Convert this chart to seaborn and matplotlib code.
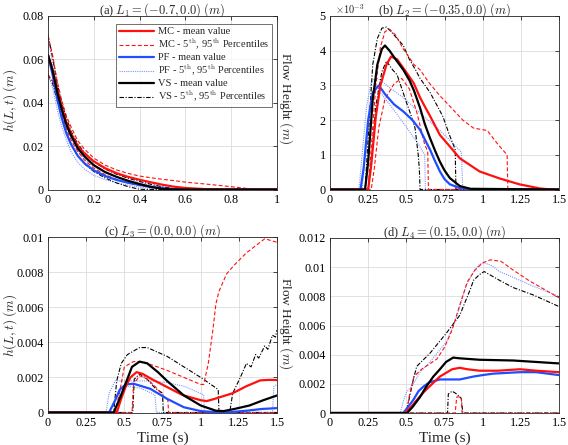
import numpy as np
import pandas as pd
import seaborn as sns
import matplotlib.pyplot as plt

# ---- panel (a): L1 = (-0.7, 0.0), common time grid
t_a = [0, 0.02, 0.04, 0.06, 0.08, 0.10, 0.13, 0.16, 0.20, 0.25, 0.30, 0.35, 0.40,
       0.45, 0.50, 0.55, 0.60, 0.70, 0.80, 0.90, 1.00]
a_mc_mean = [0.062, 0.055, 0.046, 0.038, 0.031, 0.026, 0.020, 0.0165, 0.013, 0.0098, 0.0075,
             0.0058, 0.0045, 0.0033, 0.0022, 0.0013, 0.0007, 0.0001, 0, 0, 0]
a_mc_p95 = [0.071, 0.062, 0.050, 0.041, 0.034, 0.029, 0.0225, 0.0185, 0.0145, 0.0112, 0.0090,
            0.0074, 0.0062, 0.0054, 0.0047, 0.0041, 0.0034, 0.0024, 0.0013, 0.0001, 0]
a_mc_p5 = [0.053, 0.050, 0.043, 0.035, 0.028, 0.023, 0.0175, 0.0135, 0.0098, 0.0068, 0.0046,
           0.0030, 0.0018, 0.0009, 0.0003, 0, 0, 0, 0, 0, 0]
a_pf_mean = [0.062, 0.053, 0.042, 0.033, 0.026, 0.021, 0.0155, 0.0120, 0.0088, 0.0062, 0.0044,
             0.0031, 0.0021, 0.0012, 0.0005, 0.0001, 0, 0, 0, 0, 0]
a_pf_p95 = [0.071, 0.058, 0.046, 0.036, 0.029, 0.024, 0.018, 0.014, 0.0105, 0.0078, 0.0058,
            0.0042, 0.0030, 0.0020, 0.0012, 0.0005, 0.0001, 0, 0, 0, 0]
a_pf_p5 = [0.053, 0.047, 0.037, 0.029, 0.023, 0.0175, 0.0125, 0.0093, 0.0066, 0.0045, 0.0031,
           0.0020, 0.0011, 0.0004, 0, 0, 0, 0, 0, 0, 0]
a_vs_mean = [0.062, 0.055, 0.045, 0.037, 0.030, 0.025, 0.019, 0.0152, 0.0112, 0.0080, 0.0058,
             0.0040, 0.0025, 0.0012, 0.0003, 0, 0, 0, 0, 0, 0]
a_vs_p95 = [0.071, 0.061, 0.049, 0.040, 0.033, 0.027, 0.021, 0.017, 0.0128, 0.0094, 0.0070,
            0.0052, 0.0037, 0.0024, 0.0012, 0.0004, 0, 0, 0, 0, 0]
a_vs_p5 = [0.053, 0.049, 0.041, 0.033, 0.026, 0.021, 0.0155, 0.0118, 0.0083, 0.0053, 0.0030,
           0.0013, 0.0001, 0, 0, 0, 0, 0, 0, 0, 0]

# ---- panel (b): L2 = (-0.35, 0.0), heights in 1e-3 m
b_mc_mean_t = [0, 0.25, 0.27, 0.30, 0.33, 0.37, 0.40, 0.44, 0.48, 0.52, 0.55, 0.59, 0.62, 0.655,
               0.72, 0.785, 0.85, 0.98, 1.11, 1.24, 1.375, 1.45, 1.5]
b_mc_mean_h = [0, 0, 0.7, 2.1, 3.0, 3.6, 3.83, 3.75, 3.5, 3.25, 3.05, 2.65, 2.4, 2.12,
               1.57, 1.24, 0.9, 0.52, 0.32, 0.15, 0.03, 0, 0]
b_mc_p95_t = [0, 0.25, 0.27, 0.30, 0.33, 0.36, 0.39, 0.43, 0.48, 0.52, 0.55, 0.59, 0.65, 0.72,
              0.785, 0.87, 0.94, 1.03, 1.10, 1.16, 1.165, 1.5]
b_mc_p95_h = [0, 0, 1.2, 3.0, 4.1, 4.55, 4.62, 4.45, 4.05, 3.8, 3.6, 3.45, 3.07, 2.7,
              2.4, 2.0, 1.77, 1.7, 1.3, 1.0, 0, 0]
b_mc_p5_t = [0, 0.27, 0.29, 0.32, 0.36, 0.42, 0.47, 0.52, 0.57, 0.62, 0.64, 0.645, 1.5]
b_mc_p5_h = [0, 0, 0.6, 1.8, 2.6, 3.05, 3.2, 2.9, 2.2, 1.3, 1.1, 0, 0]
b_pf_mean_t = [0, 0.20, 0.22, 0.25, 0.28, 0.32, 0.36, 0.42, 0.48, 0.54, 0.59, 0.62, 0.655, 0.69,
               0.72, 0.75, 0.785, 0.85, 0.95, 1.5]
b_pf_mean_h = [0, 0, 0.6, 2.0, 2.8, 3.0, 2.75, 2.45, 2.25, 2.0, 1.72, 1.45, 1.15, 0.8,
               0.52, 0.3, 0.15, 0.04, 0, 0]
b_pf_p95_t = [0, 0.19, 0.21, 0.24, 0.27, 0.30, 0.33, 0.40, 0.48, 0.59, 0.72, 0.80, 0.86, 0.87, 1.5]
b_pf_p95_h = [0, 0, 1.0, 2.4, 3.1, 3.22, 3.15, 2.9, 2.65, 2.2, 1.7, 1.35, 1.08, 0, 0]
b_pf_p5_t = [0, 0.21, 0.23, 0.26, 0.29, 0.32, 0.40, 0.50, 0.58, 0.62, 0.625, 1.5]
b_pf_p5_h = [0, 0, 1.0, 2.2, 2.8, 2.85, 2.4, 1.8, 1.3, 1.0, 0, 0]
b_vs_mean_t = [0, 0.23, 0.25, 0.28, 0.31, 0.34, 0.36, 0.39, 0.43, 0.48, 0.52, 0.55, 0.59, 0.62,
               0.655, 0.69, 0.72, 0.75, 0.785, 0.85, 0.92, 1.5]
b_vs_mean_h = [0, 0, 0.8, 2.6, 3.6, 4.05, 4.15, 4.0, 3.75, 3.45, 3.15, 2.85, 2.35, 1.9,
               1.48, 1.1, 0.8, 0.55, 0.33, 0.1, 0.02, 0]
b_vs_p95_t = [0, 0.23, 0.25, 0.28, 0.31, 0.34, 0.37, 0.40, 0.44, 0.48, 0.52, 0.56, 0.59, 0.655,
              0.74, 0.78, 0.82, 0.825, 1.5]
b_vs_p95_h = [0, 0, 1.5, 3.6, 4.35, 4.65, 4.68, 4.55, 4.35, 4.15, 3.75, 3.45, 3.2, 2.8,
              2.1, 1.6, 1.15, 0, 0]
b_vs_p5_t = [0, 0.25, 0.27, 0.30, 0.34, 0.37, 0.41, 0.44, 0.50, 0.53, 0.557, 0.578, 0.585, 0.59, 1.5]
b_vs_p5_h = [0, 0, 0.8, 2.4, 3.4, 3.7, 3.45, 3.3, 2.52, 2.15, 1.77, 1.0, 0.6, 0, 0]

# ---- panel (c): L3 = (0.0, 0.0)
c_mc_mean_t = [0, 0.45, 0.48, 0.51, 0.54, 0.58, 0.62, 0.68, 0.78, 0.88, 1.0, 1.04, 1.1, 1.21,
               1.3, 1.39, 1.45, 1.5]
c_mc_mean_h = [0, 0, 0.0008, 0.0015, 0.002, 0.0023, 0.0022, 0.0019, 0.00145, 0.001, 0.0007,
               0.00065, 0.0008, 0.0011, 0.0015, 0.00183, 0.00186, 0.00185]
c_mc_p95_t = [0, 0.44, 0.47, 0.50, 0.56, 0.62, 0.78, 0.89, 1.0, 1.02, 1.05, 1.08, 1.1, 1.12,
              1.17, 1.22, 1.3, 1.39, 1.42, 1.5]
c_mc_p95_h = [0, 0, 0.0012, 0.0026, 0.0029, 0.0029, 0.0024, 0.002, 0.0016, 0.0016, 0.0028,
              0.0047, 0.0062, 0.0069, 0.0079, 0.0084, 0.0091, 0.0097, 0.0099, 0.0097]
c_mc_p5_t = [0, 0.55, 0.56, 0.6, 0.65, 0.7, 0.75, 0.785, 0.79, 1.5]
c_mc_p5_h = [0, 0, 0.0016, 0.0021, 0.0019, 0.0015, 0.001, 0.0007, 0, 0]
c_pf_mean_t = [0, 0.40, 0.44, 0.47, 0.51, 0.56, 0.67, 0.78, 0.89, 1.0, 1.1, 1.2, 1.3, 1.4, 1.5]
c_pf_mean_h = [0, 0, 0.0007, 0.0013, 0.0016, 0.00164, 0.00135, 0.00078, 0.0003, 0.00008,
               0.00002, 0.00003, 0.0001, 0.0002, 0.00025]
c_pf_p95_t = [0, 0.38, 0.40, 0.44, 0.55, 0.67, 0.78, 0.89, 0.97, 1.02, 1.025, 1.47, 1.48, 1.5]
c_pf_p95_h = [0, 0, 0.0011, 0.0018, 0.0018, 0.0018, 0.0017, 0.0015, 0.0012, 0.001, 0, 0,
              0.0015, 0.0016]
c_pf_p5_t = [0, 0.46, 0.47, 0.5, 0.6, 0.68, 0.70, 0.71, 1.5]
c_pf_p5_h = [0, 0, 0.0013, 0.0015, 0.0014, 0.0011, 0.001, 0, 0]
c_vs_mean_t = [0, 0.43, 0.47, 0.515, 0.55, 0.60, 0.65, 0.72, 0.78, 0.89, 1.0, 1.1, 1.15, 1.22,
               1.32, 1.41, 1.5]
c_vs_mean_h = [0, 0, 0.0008, 0.0018, 0.0026, 0.0029, 0.0028, 0.0023, 0.0018, 0.00097, 0.0004,
               0.0001, 0.00008, 0.0002, 0.0004, 0.0007, 0.00097]
c_vs_p95_t = [0, 0.43, 0.45, 0.48, 0.52, 0.60, 0.65, 0.78, 1.0, 1.10, 1.115, 1.12, 1.19, 1.21,
              1.26, 1.30, 1.33, 1.36, 1.38, 1.42, 1.44, 1.47, 1.49, 1.5]
c_vs_p95_h = [0, 0, 0.0018, 0.0028, 0.0033, 0.0037, 0.0037, 0.0032, 0.002, 0.0014, 0.0013, 0,
              0, 0.0011, 0.002, 0.0028, 0.0026, 0.0033, 0.0031, 0.0038, 0.0036, 0.0044,
              0.0043, 0.0047]
c_vs_p5_t = [0, 0.555, 0.565, 0.6, 0.65, 0.7, 0.75, 0.755, 1.5]
c_vs_p5_h = [0, 0, 0.0019, 0.0022, 0.0019, 0.0014, 0.0011, 0, 0]

# ---- panel (d): L4 = (0.15, 0.0)
d_mc_mean_t = [0, 0.49, 0.53, 0.57, 0.611, 0.65, 0.72, 0.8, 0.85, 0.9, 0.98, 1.1, 1.245, 1.35, 1.5]
d_mc_mean_h = [0, 0, 0.0004, 0.0009, 0.0014, 0.0018, 0.0025, 0.003, 0.0031, 0.003, 0.0029,
               0.0029, 0.003, 0.0029, 0.0028]
d_mc_p95_t = [0, 0.50, 0.52, 0.55, 0.6, 0.7, 0.75, 0.8, 0.85, 0.9, 0.95, 1.0, 1.05, 1.12, 1.2,
              1.3, 1.4, 1.5]
d_mc_p95_h = [0, 0, 0.0012, 0.0025, 0.003, 0.0037, 0.0045, 0.0057, 0.0074, 0.009, 0.0098,
              0.0103, 0.0105, 0.0104, 0.0098, 0.0091, 0.0085, 0.0079]
d_mc_p5_t = [0, 0.82, 0.83, 0.86, 0.865, 1.5]
d_mc_p5_h = [0, 0, 0.0011, 0.0011, 0, 0]
d_pf_mean_t = [0, 0.48, 0.51, 0.546, 0.58, 0.611, 0.65, 0.72, 0.85, 0.94, 1.0, 1.07, 1.245, 1.35, 1.5]
d_pf_mean_h = [0, 0, 0.0004, 0.0009, 0.0015, 0.0018, 0.0021, 0.0023, 0.0023, 0.0025, 0.0026,
               0.0027, 0.0028, 0.0028, 0.0026]
d_pf_p95_t = [0, 0.46, 0.48, 0.50, 0.546, 0.59, 0.655, 0.764, 0.83, 0.89, 0.94, 0.98, 1.01,
              1.06, 1.11, 1.2, 1.33, 1.5]
d_pf_p95_h = [0, 0, 0.0008, 0.0014, 0.002, 0.0028, 0.0035, 0.0049, 0.0066, 0.0087, 0.0097,
              0.0102, 0.0103, 0.0101, 0.0097, 0.0093, 0.0087, 0.008]
d_pf_p5_t = [0, 1.5]
d_pf_p5_h = [0, 0]
d_vs_mean_t = [0, 0.505, 0.54, 0.59, 0.63, 0.677, 0.72, 0.76, 0.807, 0.85, 0.98, 1.2, 1.5]
d_vs_mean_h = [0, 0, 0.0004, 0.0011, 0.0018, 0.0025, 0.003, 0.0035, 0.0038, 0.00375, 0.00365,
               0.0036, 0.0034]
d_vs_p95_t = [0, 0.50, 0.513, 0.546, 0.568, 0.655, 0.764, 0.85, 0.873, 0.92, 0.94, 0.98, 1.01,
              1.11, 1.2, 1.33, 1.5]
d_vs_p95_h = [0, 0, 0.0007, 0.0023, 0.0032, 0.0041, 0.0055, 0.0067, 0.0073, 0.0085, 0.0091,
              0.0095, 0.0097, 0.0091, 0.0086, 0.0081, 0.0073]
d_vs_p5_t = [0, 0.77, 0.775, 0.8, 0.83, 0.86, 0.87, 1.5]
d_vs_p5_h = [0, 0, 0.0013, 0.0015, 0.0013, 0.001, 0, 0]

legend_labels = ['MC - mean value', r'MC - 5$^{\mathrm{th}}$, 95$^{\mathrm{th}}$ Percentiles',
                 'PF - mean value', r'PF - 5$^{\mathrm{th}}$, 95$^{\mathrm{th}}$ Percentiles',
                 'VS - mean value', r'VS - 5$^{\mathrm{th}}$, 95$^{\mathrm{th}}$ Percentiles']
titles = [r'(a) $L_1 = (-0.7, 0.0)$ $(m)$', r'(b) $L_2 = (-0.35, 0.0)$ $(m)$',
          r'(c) $L_3 = (0.0, 0.0)$ $(m)$', r'(d) $L_4 = (0.15, 0.0)$ $(m)$']
xticks_a = [0, 0.2, 0.4, 0.6, 0.8, 1]
xticklabels_a = ['0', '0.2', '0.4', '0.6', '0.8', '1']
xticks_t = [0, 0.25, 0.5, 0.75, 1, 1.25, 1.5]
xticklabels_t = ['0', '0.25', '0.5', '0.75', '1', '1.25', '1.5']
yticks_a = [0, 0.02, 0.04, 0.06, 0.08]
yticklabels_a = ['0', '0.02', '0.04', '0.06', '0.08']
yticks_b = [0, 1, 2, 3, 4, 5]
yticklabels_b = ['0', '1', '2', '3', '4', '5']
yticks_c = [0, 0.002, 0.004, 0.006, 0.008, 0.01]
yticklabels_c = ['0', '0.002', '0.004', '0.006', '0.008', '0.01']
yticks_d = [0, 0.002, 0.004, 0.006, 0.008, 0.01, 0.012]
yticklabels_d = ['0', '0.002', '0.004', '0.006', '0.008', '0.01', '0.012']

sns.set_theme(style='white')
plt.rcParams['font.family'] = ['Liberation Serif', 'DejaVu Serif']
plt.rcParams['mathtext.fontset'] = 'cm'

red, blue, lblue = '#ff1010', '#1f4dff', '#7f95ff'
mean_kw = dict(linewidth=1.6)
pct_kw = dict(linewidth=0.8)
styles = {
    'mc_mean': dict(color=red, linestyle='-', **mean_kw),
    'mc_pct': dict(color=red, linestyle=(0, (3.5, 2)), **pct_kw),
    'pf_mean': dict(color=blue, linestyle='-', **mean_kw),
    'pf_pct': dict(color=lblue, linestyle=(0, (1, 1)), **pct_kw),
    'vs_mean': dict(color='black', linestyle='-', **mean_kw),
    'vs_pct': dict(color='black', linestyle=(0, (4, 1.5, 1, 1.5)), **pct_kw),
}

fig = plt.figure(figsize=(5.68, 4.45), dpi=100)
W, H = 568, 445
def rect(x0, y0, x1, y1):
    return [x0 / W, 1 - y1 / H, (x1 - x0) / W, (y1 - y0) / H]

ax_a = fig.add_axes(rect(48, 16, 277, 189.5))
ax_b = fig.add_axes(rect(330, 16, 559, 189.5))
ax_c = fig.add_axes(rect(48, 237, 277, 412.5))
ax_d = fig.add_axes(rect(330, 238, 559, 413))

def line(ax, t, h, key):
    df = pd.DataFrame({'t': t, 'h': h})
    sns.lineplot(data=df, x='t', y='h', ax=ax, estimator=None, sort=False, **styles[key])

# panel a
for h, key in [(a_pf_p5, 'pf_pct'), (a_pf_p95, 'pf_pct'), (a_vs_p5, 'vs_pct'), (a_vs_p95, 'vs_pct'),
               (a_mc_p5, 'mc_pct'), (a_mc_p95, 'mc_pct'), (a_pf_mean, 'pf_mean'),
               (a_mc_mean, 'mc_mean'), (a_vs_mean, 'vs_mean')]:
    line(ax_a, t_a, h, key)

panel_series = {
    ax_b: [(b_pf_p5_t, b_pf_p5_h, 'pf_pct'), (b_pf_p95_t, b_pf_p95_h, 'pf_pct'),
           (b_vs_p5_t, b_vs_p5_h, 'vs_pct'), (b_vs_p95_t, b_vs_p95_h, 'vs_pct'),
           (b_mc_p5_t, b_mc_p5_h, 'mc_pct'), (b_mc_p95_t, b_mc_p95_h, 'mc_pct'),
           (b_pf_mean_t, b_pf_mean_h, 'pf_mean'), (b_mc_mean_t, b_mc_mean_h, 'mc_mean'),
           (b_vs_mean_t, b_vs_mean_h, 'vs_mean')],
    ax_c: [(c_pf_p5_t, c_pf_p5_h, 'pf_pct'), (c_pf_p95_t, c_pf_p95_h, 'pf_pct'),
           (c_vs_p5_t, c_vs_p5_h, 'vs_pct'), (c_vs_p95_t, c_vs_p95_h, 'vs_pct'),
           (c_mc_p5_t, c_mc_p5_h, 'mc_pct'), (c_mc_p95_t, c_mc_p95_h, 'mc_pct'),
           (c_pf_mean_t, c_pf_mean_h, 'pf_mean'), (c_mc_mean_t, c_mc_mean_h, 'mc_mean'),
           (c_vs_mean_t, c_vs_mean_h, 'vs_mean')],
    ax_d: [(d_pf_p5_t, d_pf_p5_h, 'pf_pct'), (d_pf_p95_t, d_pf_p95_h, 'pf_pct'),
           (d_vs_p5_t, d_vs_p5_h, 'vs_pct'), (d_vs_p95_t, d_vs_p95_h, 'vs_pct'),
           (d_mc_p5_t, d_mc_p5_h, 'mc_pct'), (d_mc_p95_t, d_mc_p95_h, 'mc_pct'),
           (d_pf_mean_t, d_pf_mean_h, 'pf_mean'), (d_mc_mean_t, d_mc_mean_h, 'mc_mean'),
           (d_vs_mean_t, d_vs_mean_h, 'vs_mean')],
}
for ax, series in panel_series.items():
    for t, h, key in series:
        line(ax, t, h, key)

setup = [
    (ax_a, (0, 1), (0, 0.08), xticks_a, xticklabels_a, yticks_a, yticklabels_a),
    (ax_b, (0, 1.5), (0, 5), xticks_t, xticklabels_t, yticks_b, yticklabels_b),
    (ax_c, (0, 1.5), (0, 0.01), xticks_t, xticklabels_t, yticks_c, yticklabels_c),
    (ax_d, (0, 1.5), (0, 0.012), xticks_t, xticklabels_t, yticks_d, yticklabels_d),
]
for (ax, xl, yl, xt, xtl, yt, ytl), title in zip(setup, titles):
    ax.set_xlim(*xl)
    ax.set_ylim(*yl)
    ax.set_xticks(xt)
    ax.set_xticklabels(xtl)
    ax.set_yticks(yt)
    ax.set_yticklabels(ytl)
    ax.set_xlabel('')
    ax.set_ylabel('')
    ax.grid(True, color='#dcdcdc', linewidth=0.6)
    ax.set_axisbelow(True)
    ax.tick_params(direction='in', length=3, width=0.6, labelsize=8.7, pad=3,
                   top=True, right=True, colors='#262626')
    ax.tick_params(axis='both', labelcolor='black')
    for s in ax.spines.values():
        s.set_color('#262626')
        s.set_linewidth(0.6)
    ax.set_title(title, fontsize=9, pad=1.5)

for ax in (ax_c, ax_d):
    ax.set_xlabel('Time (s)', fontsize=11, labelpad=2)

fig.text(335 / W, 1 - 9 / H, r'$\times 10^{-3}$', fontsize=7.5, ha='left', va='center')

# side labels
for yc in (100, 325):
    fig.text(10 / W, 1 - yc / H, r'$h(L,t)$ $(m)$', fontsize=9.5, rotation=90,
             ha='center', va='center')
    fig.text(286 / W, 1 - (yc - 2) / H, r'Flow Height $(m)$', fontsize=9.5, rotation=270,
             ha='center', va='center')

# legend in panel (a)
order = [7, 4, 6, 0, 8, 2]
handles = [ax_a.lines[i] for i in order]
leg = ax_a.legend(handles, legend_labels, loc='upper right', bbox_to_anchor=(0.978, 0.955),
                  fontsize=7.5, frameon=True, fancybox=False, handlelength=3.4,
                  handletextpad=0.3, borderpad=0.3, labelspacing=0.08, borderaxespad=0)
leg.get_frame().set_edgecolor('#303030')
leg.get_frame().set_linewidth(0.6)

fig.savefig('out.png', dpi=100)
